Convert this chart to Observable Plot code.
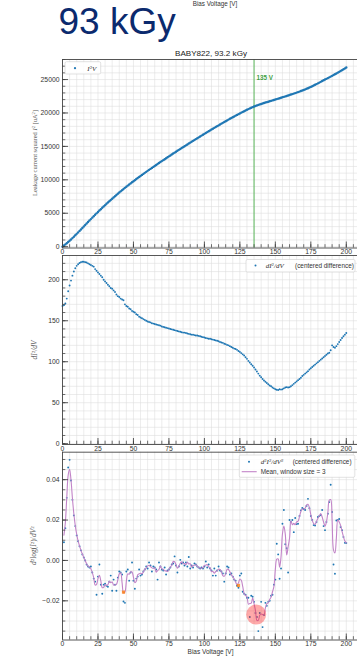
<!DOCTYPE html>
<html><head><meta charset="utf-8">
<script src="https://cdn.jsdelivr.net/npm/d3@7"></script>
<script src="https://cdn.jsdelivr.net/npm/@observablehq/plot@0.6"></script>
<style>
html,body{margin:0;padding:0;background:#fff;}
body{width:357px;height:656px;overflow:hidden;position:relative;font-family:"Liberation Sans",Arial,sans-serif;}
.panel{position:absolute;left:0;}
#overlay{position:absolute;left:0;top:0;pointer-events:none;}
</style></head><body>
<div id="p1" class="panel" style="top:0px"></div>
<div id="p2" class="panel" style="top:250px"></div>
<div id="p3" class="panel" style="top:447px"></div>
<svg id="overlay" width="357" height="656" font-family="Liberation Sans, Arial, sans-serif">
  <text x="58.5" y="33.5" font-size="37" fill="#0b2a6e">93 kGy</text>
  <text x="215" y="6.3" font-size="6.3" text-anchor="middle" fill="#333">Bias Voltage [V]</text>
  <text x="211" y="55.5" font-size="8.1" text-anchor="middle" fill="#222">BABY822, 93.2 kGy</text>
  <text transform="translate(36.5,153) rotate(-90)" text-anchor="middle" font-family="Liberation Serif, serif" font-size="6.5" fill="#555">Leakage current squared <tspan font-style="italic">I</tspan><tspan baseline-shift="super" font-size="4.5">2</tspan> [uA<tspan baseline-shift="super" font-size="4.5">2</tspan>]</text>
  <text transform="translate(37,350) rotate(-90)" text-anchor="middle" font-family="Liberation Serif, serif" font-size="7.5" fill="#555"><tspan font-style="italic">dI</tspan><tspan baseline-shift="super" font-size="5">2</tspan><tspan font-style="italic">/dV</tspan></text>
  <text transform="translate(36,545.6) rotate(-90)" text-anchor="middle" font-family="Liberation Serif, serif" font-size="7.5" fill="#555"><tspan font-style="italic">d</tspan><tspan baseline-shift="super" font-size="5">2</tspan>log(<tspan font-style="italic">I</tspan><tspan baseline-shift="super" font-size="5">2</tspan>)/<tspan font-style="italic">dV</tspan><tspan baseline-shift="super" font-size="5">2</tspan></text>
  <text x="210.5" y="654" font-size="6.5" text-anchor="middle" fill="#333">Bias Voltage [V]</text>
  <!-- legend panel 1 -->
  <rect x="65" y="61.7" width="35.7" height="12.3" rx="1.5" fill="#fff" fill-opacity="0.85" stroke="#cfcfcf" stroke-width="0.6"/>
  <circle cx="75" cy="68.2" r="1.1" fill="#1f77b4"/>
  <text x="87.3" y="70.6" font-family="Liberation Serif, serif" font-style="italic" font-size="7" fill="#333">I<tspan baseline-shift="super" font-size="4.8" font-style="normal">2</tspan>V</text>
  <!-- legend panel 2 -->
  <rect x="246" y="259.5" width="109" height="12.5" rx="1.5" fill="#fff" fill-opacity="0.85" stroke="#cfcfcf" stroke-width="0.6"/>
  <circle cx="255.5" cy="265.5" r="1" fill="#1f77b4"/>
  <text x="265.7" y="267.9" font-family="Liberation Serif, serif" font-size="7" fill="#333"><tspan font-style="italic">dI</tspan><tspan baseline-shift="super" font-size="4.8">2</tspan><tspan font-style="italic">/dV</tspan></text>
  <text x="295" y="267.9" font-size="6.4" fill="#333">(centered difference)</text>
  <!-- legend panel 3 -->
  <rect x="239.3" y="455" width="115.5" height="22.3" rx="1.5" fill="#fff" fill-opacity="0.85" stroke="#cfcfcf" stroke-width="0.6"/>
  <circle cx="249" cy="461.7" r="1" fill="#1f77b4"/>
  <text x="260.7" y="464" font-family="Liberation Serif, serif" font-size="7" fill="#333"><tspan font-style="italic">d</tspan><tspan baseline-shift="super" font-size="4.8">2</tspan><tspan font-style="italic">I</tspan><tspan baseline-shift="super" font-size="4.8">2</tspan><tspan font-style="italic">/dV</tspan><tspan baseline-shift="super" font-size="4.8">2</tspan></text>
  <text x="292.7" y="464" font-size="6.4" fill="#333">(centered difference)</text>
  <line x1="241.7" x2="256.7" y1="471.7" y2="471.7" stroke="#c284c8" stroke-width="1.1"/>
  <text x="260.7" y="474" font-size="6.4" fill="#333">Mean, window size = 3</text>
</svg>
<script>
// ---------- data (Bias voltage in 1 V steps; index = volts) ----------
const i2Values = [0,169,339,513,695,884,1080,1282,1490,1702,1917,2135,2355,2576,2798,3020,3242,3463,3684,3904,
4122,4340,4556,4771,4983,5193,5401,5607,5811,6013,6212,6409,6604,6797,6988,7178,7366,7552,7736,7917,
8097,8275,8452,8628,8800,8969,9137,9303,9468,9631,9793,9954,10113,10271,10427,10581,10735,10887,11039,11189,
11339,11488,11636,11784,11930,12077,12222,12368,12512,12657,12800,12943,13085,13227,13368,13509,13649,13789,13928,14067,
14205,14343,14480,14617,14753,14889,15024,15160,15294,15429,15562,15696,15829,15961,16094,16226,16357,16489,16619,16750,
16879,17008,17137,17265,17393,17521,17648,17775,17901,18027,18152,18277,18401,18524,18646,18768,18889,19009,19129,19247,
19365,19481,19597,19712,19826,19938,20050,20159,20268,20374,20479,20581,20681,20779,20875,20969,21051,21130,21207,21281,
21353,21423,21491,21557,21622,21688,21752,21817,21882,21947,22012,22078,22143,22209,22276,22342,22409,22477,22546,22615,
22683,22753,22824,22896,22970,23045,23122,23200,23280,23361,23445,23529,23616,23708,23803,23901,24002,24106,24212,24322,
24433,24546,24660,24776,24893,24999,25107,25216,25327,25439,25556,25675,25793,25911,26031,26154,26279,26407,26537,26669,26803];

const dI2Values = [168,169,171,177,186,193,199,205,210,214,217,219,220.5,221.5,222,222,221.5,221,220,219,
218,217,216,213,211,209,207,205,203,200,198,196,194,192,190,189,187,185,182,180,
179,177,176,175,170,168,167,165,164,162,161,160,158,157,155,154,153,152,151,150,
149,148.5,148,147,146.5,146,145.5,145,144.5,144,143,142.5,142,141.5,141,140.5,140,139.5,139,138.5,
138,137.5,137,136.5,136,135.5,135.5,135,134.5,134,133.5,133,133,132.5,132,132,131.5,131,130.5,130,
129.5,129,128.5,128,128,127.5,127,126.5,126,125.5,125,124,123.5,123,122,121.5,120.5,120,119,118,
117,116,115.5,114.5,113,112,110.5,109,107.5,105.5,103.5,101,99,97,95,93,90.5,88,85.5,83,
81,79,77,75.5,74,72.5,71,70,68.5,67.5,66.5,65.8,65.5,66.5,66,66.5,67.5,68.5,69,68.5,
69,70,71.5,73,74.5,76,77.5,79,80.5,82.5,84,85.5,87,88.5,90.5,92,93.5,95,96.5,98,
99.5,101,102.5,104,105.5,107,108.5,110,111,114,120,118,117,119,121.5,124,126.5,129,131,133,135];

// second derivative, V = 1 ... 200
const d2Start = 1;
const d2Values = [0.009,0.016,0.031,0.046,0.0498,0.0396,0.030,0.0223,0.017,0.0124,
0.0095,0.007,0.005,0.003,0.0015,0.000,-0.002,-0.003,-0.0035,-0.003,
-0.006,-0.009,-0.0105,-0.017,-0.008,-0.002,-0.012,-0.0165,-0.012,-0.0115,
-0.0125,-0.013,-0.0105,-0.0075,-0.015,-0.0095,-0.012,-0.015,-0.0085,-0.0055,
-0.006,-0.007,-0.0203,-0.021,-0.0055,-0.0045,-0.010,-0.006,-0.001,-0.010,
-0.014,-0.009,-0.008,-0.0045,-0.0075,-0.007,-0.0055,-0.0045,-0.003,-0.004,
-0.001,-0.0025,-0.0055,-0.003,-0.0035,-0.0045,-0.0095,-0.001,-0.003,-0.0045,
-0.005,-0.0035,-0.007,-0.005,-0.0045,-0.0035,-0.002,-0.0015,0.002,-0.0025,
-0.006,-0.003,0.0003,-0.0015,-0.001,-0.0025,-0.001,-0.003,0.0017,-0.004,
-0.0025,-0.0035,-0.0015,-0.002,-0.003,-0.0035,-0.004,-0.0035,-0.004,-0.003,
-0.0005,-0.0035,-0.002,-0.004,-0.005,-0.0075,-0.004,-0.0075,-0.005,-0.003,
-0.005,-0.0055,-0.0065,-0.0105,-0.0065,-0.003,-0.0035,-0.007,-0.0065,-0.008,
-0.0095,-0.010,-0.0125,-0.0135,-0.0075,-0.0065,-0.0155,-0.0165,-0.017,-0.0185,
-0.0185,-0.028,-0.0175,-0.018,-0.0205,-0.026,-0.028,-0.035,-0.026,-0.0205,
-0.033,-0.027,-0.021,-0.0225,-0.0205,-0.020,-0.0175,-0.017,-0.012,-0.0095,
0.0083,0.003,-0.0091,-0.004,0.0182,0.025,0.008,0.006,-0.006,0.020,
0.019,0.020,0.014,0.021,0.018,0.0182,0.022,0.0248,0.026,0.0255,
0.025,0.027,0.0305,0.0259,0.022,0.020,0.0175,0.0173,0.019,0.0215,
0.022,0.0225,0.025,0.017,0.015,0.019,0.0231,0.0289,0.0375,0.024,
-0.002,-0.0066,0.0198,0.020,0.0205,0.0165,0.015,0.0116,0.0087,0.0086];

const kneeVoltage = [135];
const localMinima = [{V: 43, v: -0.0157}, {V: 124, v: -0.0124}];
const globalMinimum = [{V: 136.5, v: -0.0268}];

const xTickLabels = [0, 25, 50, 75, 100, 125, 150, 175, 200];
const yTicks1 = [0, 5000, 10000, 15000, 20000, 25000];
const yTicks2 = [0, 50, 100, 150, 200];
const yTicks3 = [-0.02, 0, 0.02, 0.04];

// ---------- tables ----------
const data1 = i2Values.map((v, i) => ({V: i, I2: v}));
const data2 = dI2Values.map((v, i) => ({V: i, D: v}));
const data3 = d2Values.map((v, i) => ({V: i + d2Start, v}));

// ---------- styling ----------
const W = 357, ML = 62;
const blue = "#1f77b4";
const gridC = "#dcdcdc";
const tickC = "#333";
const frameC = "#444";
const xDomain = [0, 207.9];
const xMinor = d3.range(0, 206, 5);

function panel({height, marginTop, marginBottom, yDomain, yMajor, yMinor, yFormat, marks}) {
  const frameH = height - marginTop - marginBottom;
  const frameW = W - ML;
  return Plot.plot({
    width: W, height, marginLeft: ML, marginRight: 0, marginTop, marginBottom,
    style: {background: "transparent", fontFamily: "Liberation Sans, Arial, sans-serif", fontSize: "6.8px", color: "#333", overflow: "visible"},
    x: {domain: xDomain, ticks: xTickLabels, tickSize: 0, tickPadding: 1.6, label: null, tickFormat: d => String(d)},
    y: {domain: yDomain, ticks: yMajor, tickSize: 0, tickPadding: 3, label: null, tickFormat: yFormat},
    marks: [
      Plot.ruleX(xMinor, {stroke: gridC, strokeWidth: 0.55}),
      Plot.ruleY(yMinor, {stroke: gridC, strokeWidth: 0.55}),
      ...marks,
      Plot.ruleX(xMinor, {insetTop: frameH - 3.3, stroke: tickC, strokeWidth: 0.7}),
      Plot.ruleX(xTickLabels, {insetTop: frameH - 6, stroke: tickC, strokeWidth: 0.8}),
      Plot.ruleY(yMinor, {insetRight: frameW - 3.3, stroke: tickC, strokeWidth: 0.7}),
      Plot.ruleY(yMajor, {insetRight: frameW - 6, stroke: tickC, strokeWidth: 0.8}),
      Plot.ruleX([xDomain[0]], {stroke: frameC, strokeWidth: 0.9}),
      Plot.ruleY([yDomain[0], yDomain[1]], {stroke: frameC, strokeWidth: 0.9})
    ]
  });
}

const green = "#5cb85c";

document.getElementById("p1").append(panel({
  height: 256, marginTop: 59, marginBottom: 8.5,
  yDomain: [-200, 28000], yMajor: yTicks1, yMinor: d3.range(0, 28001, 1000),
  yFormat: d => String(d),
  marks: [
    Plot.ruleX(kneeVoltage, {x: d => d, stroke: green, strokeWidth: 1}),
    Plot.text(kneeVoltage, {x: d => d, frameAnchor: "top", dy: 16, dx: 2.5, text: d => `${d} V`, textAnchor: "start", fill: "#3f9f3f", fontSize: 6.3, fontWeight: 600}),
    Plot.dot(data1, {x: "V", y: "I2", r: 1.2, fill: blue, stroke: null})
  ]
}));

document.getElementById("p2").append(panel({
  height: 202, marginTop: 5, marginBottom: 8,
  yDomain: [-1, 229.6], yMajor: yTicks2, yMinor: d3.range(0, 230, 10),
  yFormat: d => String(d),
  marks: [
    Plot.dot(data2, {x: "V", y: "D", r: 0.95, fill: blue, stroke: null})
  ]
}));

document.getElementById("p3").append(panel({
  height: 209, marginTop: 4.7, marginBottom: 16.5,
  yDomain: [-0.0394, 0.0536], yMajor: yTicks3, yMinor: d3.range(-0.035, 0.0501, 0.005),
  yFormat: d3.format(".2f"),
  marks: [
    Plot.dot(data3, {x: "V", y: "v", r: 0.95, fill: blue, stroke: null}),
    Plot.lineY(data3, Plot.windowY({k: 3, reduce: "mean"}, {x: "V", y: "v", stroke: "#c284c8", strokeWidth: 1.1, curve: "catmull-rom"})),
    Plot.dot(globalMinimum, {x: "V", y: "v", r: 10, fill: "#ff2020", fillOpacity: 0.38, stroke: null}),
    Plot.dot(localMinima, {x: "V", y: "v", r: 1.8, symbol: "square", fill: "#ff7f0e", fillOpacity: 0.8, stroke: null})
  ]
}));
</script>
</body></html>
